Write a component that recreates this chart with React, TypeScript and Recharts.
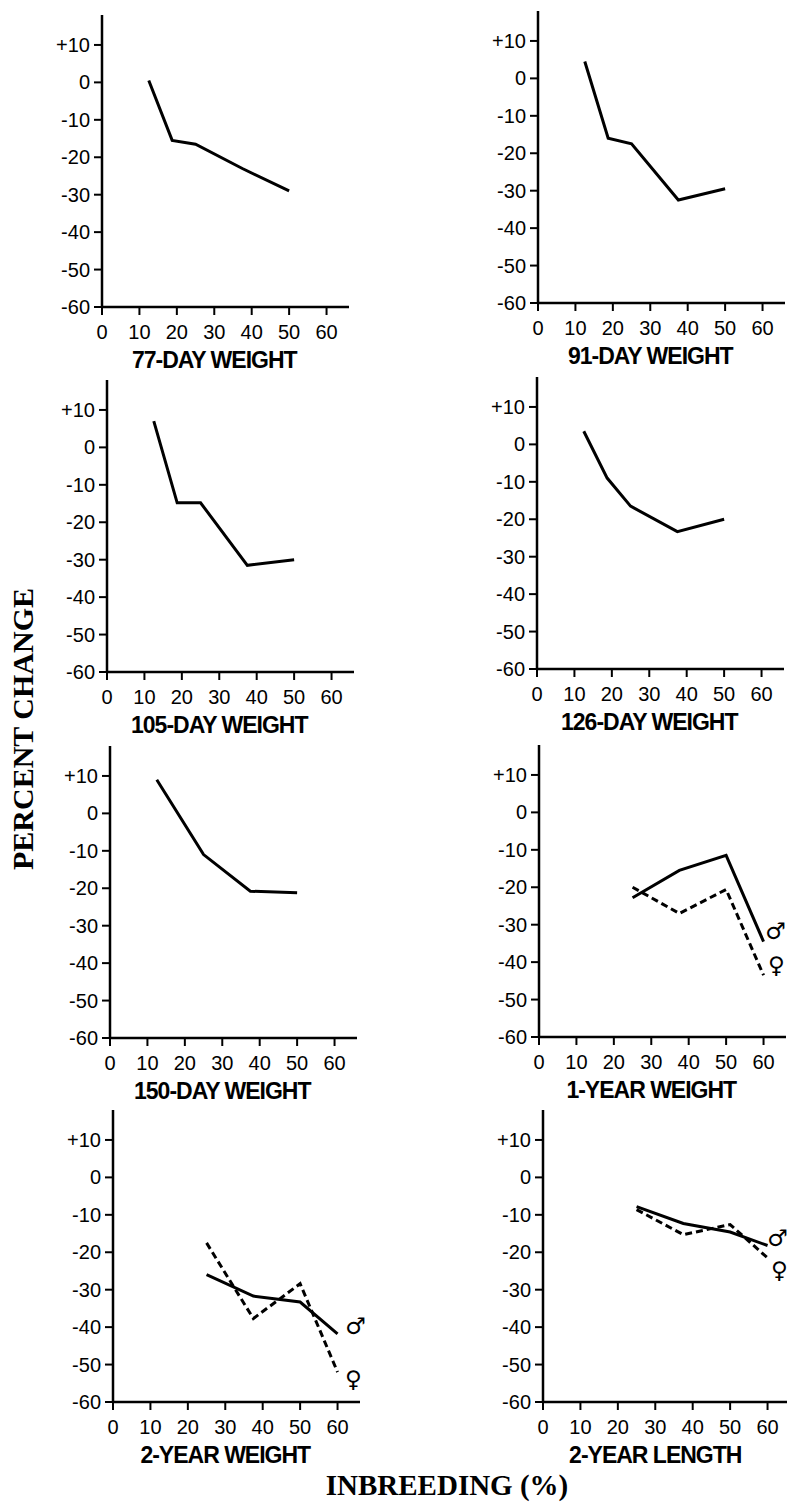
import React from 'react';
import { LineChart, Line, XAxis, YAxis, LabelList } from 'recharts';

// inbreeding levels (%) at which each trait was measured
const inbreedingEarly = [12.5, 18.75, 25, 37.5, 50];
const inbreeding150 = [12.5, 25, 37.5, 50];
const inbreedingLate = [25, 37.5, 50, 60];

// percent change vs. non-inbred controls
const weight77 = [0.5, -15.5, -16.5, -23, -29];
const weight91 = [4.5, -16, -17.5, -32.5, -29.5];
const weight105 = [7, -14.8, -14.8, -31.5, -30];
const weight126 = [3.5, -9, -16.5, -23.3, -20];
const weight150 = [9, -11, -20.8, -21.2];
const weight1yrMale = [-22.8, -15.5, -11.5, -34.5];
const weight1yrFemale = [-20, -27, -20.6, -43.5];
const weight2yrMale = [-26, -31.7, -33.3, -41.8];
const weight2yrFemale = [-17.5, -37.7, -28.4, -52];
const length2yrMale = [-7.8, -12.3, -14.6, -18.2];
const length2yrFemale = [-8.6, -15.3, -12.6, -21.5];

const xTicks = [0, 10, 20, 30, 40, 50, 60];
const yTicks = [-60, -50, -40, -30, -20, -10, 0, 10];

const X_MAX = 66;
const Y_MIN = -60;
const Y_MAX = 18;

const CHART_W = 312;
const CHART_H = 372;
const Y_AXIS_W = 60;
const X_AXIS_H = 70;
const TOP = 10;

const SANS = 'Liberation Sans, Arial, Helvetica, sans-serif';
const SERIF = 'Liberation Serif, Times New Roman, serif';

type Series = { x: number[]; y: number[]; dashed?: boolean; sex?: 'male' | 'female' };
type Panel = {
  title: string;
  left: number;
  top: number;
  series: Series[];
  maleOff?: [number, number];
  femaleOff?: [number, number];
};

const toRows = (xs: number[], ys: number[]) => xs.map((x, i) => ({ x, y: ys[i] }));

const panels: Panel[] = [
  { title: '77-DAY WEIGHT', left: 42, top: 5, series: [{ x: inbreedingEarly, y: weight77 }] },
  { title: '91-DAY WEIGHT', left: 478, top: 1, series: [{ x: inbreedingEarly, y: weight91 }] },
  { title: '105-DAY WEIGHT', left: 47, top: 370, series: [{ x: inbreedingEarly, y: weight105 }] },
  { title: '126-DAY WEIGHT', left: 477, top: 367, series: [{ x: inbreedingEarly, y: weight126 }] },
  { title: '150-DAY WEIGHT', left: 50, top: 736, series: [{ x: inbreeding150, y: weight150 }] },
  {
    title: '1-YEAR WEIGHT', left: 479, top: 735,
    series: [
      { x: inbreedingLate, y: weight1yrMale, sex: 'male' },
      { x: inbreedingLate, y: weight1yrFemale, dashed: true, sex: 'female' },
    ],
    maleOff: [12, -11], femaleOff: [13, -10],
  },
  {
    title: '2-YEAR WEIGHT', left: 53, top: 1100,
    series: [
      { x: inbreedingLate, y: weight2yrMale, sex: 'male' },
      { x: inbreedingLate, y: weight2yrFemale, dashed: true, sex: 'female' },
    ],
    maleOff: [18, -8], femaleOff: [16, 7],
  },
  {
    title: '2-YEAR LENGTH', left: 483, top: 1100,
    series: [
      { x: inbreedingLate, y: length2yrMale, sex: 'male' },
      { x: inbreedingLate, y: length2yrFemale, dashed: true, sex: 'female' },
    ],
    maleOff: [10, -8], femaleOff: [12, 12],
  },
];

const sexMark = (symbol: string, n: number, off: [number, number]) => (props: any) => {
  if (props.index !== n - 1) return null;
  return (
    <text
      x={props.x + off[0]}
      y={props.y + off[1]}
      textAnchor="middle"
      dominantBaseline="central"
      fontSize={23}
      fontFamily="DejaVu Sans, sans-serif"
      fill="#000"
    >
      {symbol}
    </text>
  );
};

const titleLabel = (title: string) => (props: any) => {
  const vb = props.viewBox || {};
  return (
    <text
      x={vb.x + vb.width * (30 / X_MAX)}
      y={vb.y + 61}
      textAnchor="middle"
      fontSize={23}
      fontWeight="bold"
      letterSpacing={-1}
      fontFamily={SANS}
      fill="#000"
    >
      {title}
    </text>
  );
};

const fmtY = (v: number) => (v > 0 ? `+${v}` : `${v}`);

const PanelChart = ({ panel }: { panel: Panel }) => (
  <div style={{ position: 'absolute', left: panel.left, top: panel.top }}>
    <LineChart width={CHART_W} height={CHART_H} margin={{ top: TOP, right: 5, left: 0, bottom: 0 }}>
      <XAxis
        type="number"
        dataKey="x"
        domain={[0, X_MAX]}
        ticks={xTicks}
        height={X_AXIS_H}
        tickSize={8}
        tickMargin={10}
        axisLine={{ stroke: '#000', strokeWidth: 2.5 }}
        tickLine={{ stroke: '#000', strokeWidth: 2 }}
        tick={{ fill: '#000', fontSize: 20, fontFamily: SANS }}
        label={titleLabel(panel.title)}
      />
      <YAxis
        type="number"
        domain={[Y_MIN, Y_MAX]}
        ticks={yTicks}
        width={Y_AXIS_W}
        tickSize={8}
        tickMargin={4}
        tickFormatter={fmtY}
        axisLine={{ stroke: '#000', strokeWidth: 2.5 }}
        tickLine={{ stroke: '#000', strokeWidth: 2 }}
        tick={{ fill: '#000', fontSize: 20, fontFamily: SANS }}
      />
      {panel.series.map((s, i) => (
        <Line
          key={i}
          data={toRows(s.x, s.y)}
          dataKey="y"
          type="linear"
          stroke="#000"
          strokeWidth={3}
          strokeDasharray={s.dashed ? '7 4' : undefined}
          dot={false}
          activeDot={false}
          isAnimationActive={false}
        >
          {s.sex === 'male' && (
            <LabelList dataKey="y" content={sexMark('\u2642', s.x.length, panel.maleOff || [16, -8])} />
          )}
          {s.sex === 'female' && (
            <LabelList dataKey="y" content={sexMark('\u2640', s.x.length, panel.femaleOff || [15, 5])} />
          )}
        </Line>
      ))}
    </LineChart>
  </div>
);

export default function App() {
  return (
    <div
      style={{
        position: 'absolute',
        left: 0,
        top: 0,
        width: 787,
        height: 1505,
        background: '#fff',
        overflow: 'hidden',
      }}
    >
      {panels.map((p) => (
        <PanelChart key={p.title} panel={p} />
      ))}
      <svg width={787} height={1505} style={{ position: 'absolute', left: 0, top: 0, pointerEvents: 'none' }}>
        <text
          transform="translate(33,729) rotate(-90)"
          textAnchor="middle"
          fontSize={30}
          fontWeight="bold"
          fontFamily={SERIF}
          fill="#000"
        >
          PERCENT CHANGE
        </text>
        <text x={447} y={1495} textAnchor="middle" fontSize={29} fontWeight="bold" fontFamily={SERIF} fill="#000">
          INBREEDING (%)
        </text>
      </svg>
    </div>
  );
}
